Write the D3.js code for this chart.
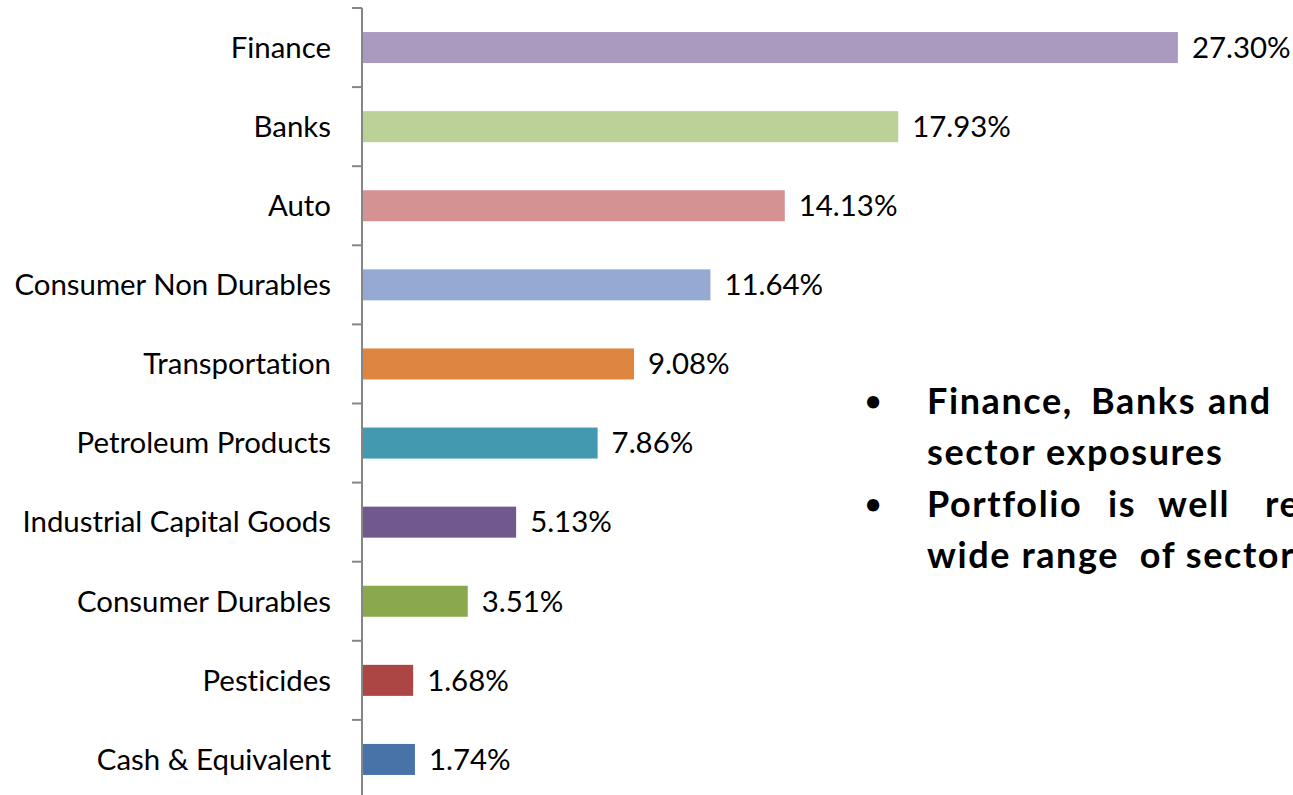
<!DOCTYPE html>
<html>
<head>
<meta charset="utf-8">
<script src="https://cdn.jsdelivr.net/npm/d3@7"></script>
<style>
  html, body { margin: 0; padding: 0; background: #fff; overflow: hidden; }
  svg { display: block; }
  text { font-variant-ligatures: none; }
</style>
</head>
<body>
<div id="chart"></div>
<script>
// sector allocation data (top to bottom)
const categories = ['Finance', 'Banks', 'Auto', 'Consumer Non Durables', 'Transportation',
  'Petroleum Products', 'Industrial Capital Goods', 'Consumer Durables', 'Pesticides', 'Cash & Equivalent'];
const values = [27.30, 17.93, 14.13, 11.64, 9.08, 7.86, 5.13, 3.51, 1.68, 1.74];
const colors = ['#A99BC0', '#BBD197', '#D49392', '#94AAD2', '#DE853F',
  '#4299B0', '#71598D', '#8AA84C', '#AB4644', '#4773A8'];
// bullet notes: each line is a list of words (justified lines get spread out)
const bullets = [
  [['Finance,', 'Banks', 'and'], ['sector exposures']],
  [['Portfolio', 'is', 'well', 'represented'], ['wide range  of sectors']]
];
// word start positions for the justified lines
const wordX = [
  [[927, 1091, 1208], [927]],
  [[927, 1108, 1158, 1265], [927]]
];

const width = 1293, height = 795;
const svg = d3.select('#chart').append('svg')
  .attr('width', width)
  .attr('height', height);

const pad = 0.608;
const y = d3.scaleBand()
  .domain(categories)
  .range([8, 799])
  .paddingInner(pad)
  .paddingOuter(pad / 2);

const x = d3.scaleLinear()
  .domain([0, 30])
  .range([363, 363 + 30 * 29.85]);

const step = y.step();
const font = 'Lato, Carlito, "Open Sans", sans-serif';
const fs = 29.4;

// bars
svg.selectAll('rect.bar')
  .data(categories)
  .enter().append('rect')
  .attr('class', 'bar')
  .attr('x', x(0))
  .attr('y', d => y(d))
  .attr('width', (d, i) => x(values[i]) - x(0))
  .attr('height', y.bandwidth())
  .attr('fill', (d, i) => colors[i]);

// value labels
svg.selectAll('text.val')
  .data(categories)
  .enter().append('text')
  .attr('class', 'val')
  .attr('x', (d, i) => x(values[i]) + 14)
  .attr('y', d => y(d) + y.bandwidth() / 2)
  .attr('dy', '0.35em')
  .attr('font-family', font)
  .attr('font-size', fs)
  .attr('fill', '#000')
  .text((d, i) => values[i].toFixed(2) + '%');

// axis line + ticks at category boundaries
const axisColor = '#868686';
svg.append('line')
  .attr('x1', 362).attr('x2', 362)
  .attr('y1', 8).attr('y2', 799)
  .attr('stroke', axisColor).attr('stroke-width', 2);

const bounds = d3.range(categories.length + 1).map(i => 8 + i * step);
svg.selectAll('line.tick')
  .data(bounds)
  .enter().append('line')
  .attr('class', 'tick')
  .attr('x1', 352).attr('x2', 362)
  .attr('y1', d => d).attr('y2', d => d)
  .attr('stroke', axisColor).attr('stroke-width', 2);

// category labels
svg.selectAll('text.cat')
  .data(categories)
  .enter().append('text')
  .attr('class', 'cat')
  .attr('x', 331)
  .attr('y', d => y(d) + y.bandwidth() / 2)
  .attr('dy', '0.35em')
  .attr('text-anchor', 'end')
  .attr('font-family', font)
  .attr('font-size', fs)
  .attr('fill', '#000')
  .text(d => d);

// bullet notes
const note = svg.append('g').attr('font-family', font).attr('font-weight', 'bold')
  .attr('font-size', 36).attr('letter-spacing', 1.6).attr('fill', '#000');
let lineY = 401;
bullets.forEach((lines, b) => {
  note.append('text').attr('x', 865).attr('y', lineY).attr('dy', '0.35em')
    .attr('font-size', 28).attr('letter-spacing', 0).text('\u2022');
  lines.forEach((words, l) => {
    words.forEach((w, k) => {
      note.append('text').attr('x', wordX[b][l][k]).attr('y', lineY).attr('dy', '0.35em')
        .attr('xml:space', 'preserve').style('white-space', 'pre').text(w);
    });
    lineY += 51.5;
  });
});
</script>
</body>
</html>
